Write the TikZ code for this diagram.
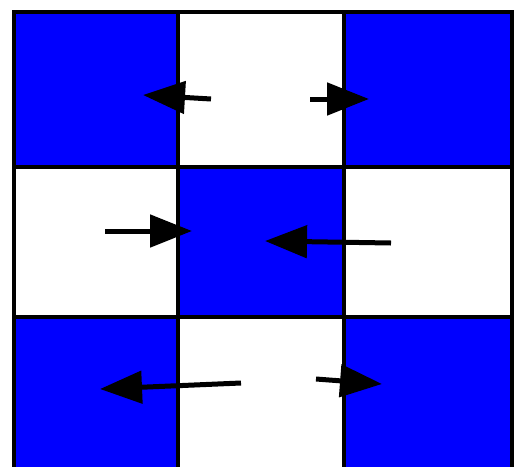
\documentclass[tikz,border=0pt]{standalone}
\usetikzlibrary{arrows.meta}
\definecolor{cellblue}{RGB}{0,0,255}
\begin{document}
\begin{tikzpicture}[x=1pt,y=-1pt,
  bluecell/.style={fill=cellblue,draw=none},
  gridline/.style={line width=4.5pt,draw=black},
  mv/.style={line width=5pt,-{Triangle[length=42pt,width=32pt]}}]
\useasboundingbox (0,0) rectangle (518,466);
\clip (0,0) rectangle (518,466);
% cells
\fill[bluecell] (14,12) rectangle (178,167);
\fill[bluecell] (344,12) rectangle (512,167);
\fill[bluecell] (178,167) rectangle (344,317);
\fill[bluecell] (14,317) rectangle (178,480);
\fill[bluecell] (344,317) rectangle (512,480);
% grid
\draw[gridline] (14,12) rectangle (512,480);
\draw[gridline] (178,12) -- (178,480);
\draw[gridline] (344,12) -- (344,480);
\draw[gridline] (14,167) -- (512,167);
\draw[gridline] (14,317) -- (512,317);
% arrow end points
\coordinate (a1s) at (211,99);  \coordinate (a1e) at (143,95);
\coordinate (a2s) at (310,99);  \coordinate (a2e) at (369,99);
\coordinate (a3s) at (105,231); \coordinate (a3e) at (192,231);
\coordinate (a4s) at (391,243); \coordinate (a4e) at (265,241);
\coordinate (a5s) at (241,383); \coordinate (a5e) at (100,389);
\coordinate (a6s) at (316,379); \coordinate (a6e) at (382,384);
\draw[mv] (a1s) -- (a1e);
\draw[mv] (a2s) -- (a2e);
\draw[mv] (a3s) -- (a3e);
\draw[mv] (a4s) -- (a4e);
\draw[mv] (a5s) -- (a5e);
\draw[mv] (a6s) -- (a6e);
\end{tikzpicture}
\end{document}
